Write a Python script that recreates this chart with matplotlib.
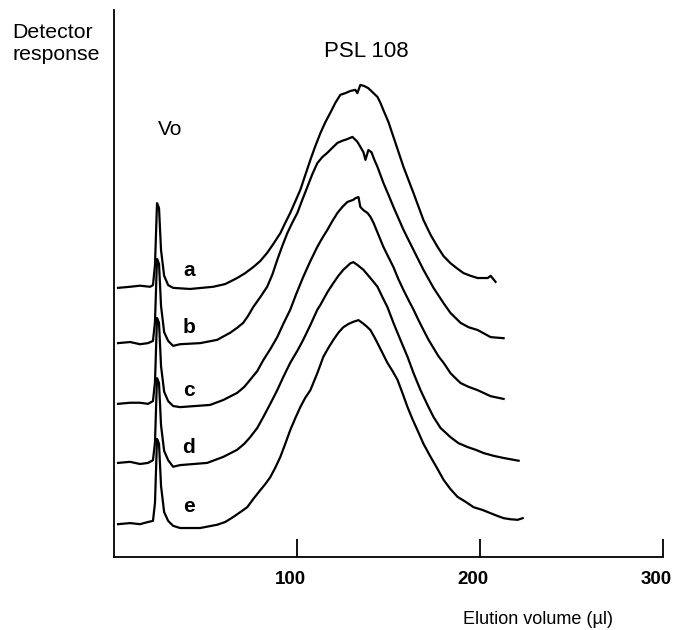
import matplotlib
matplotlib.use("Agg")
import matplotlib.pyplot as plt
import matplotlib.transforms as mtransforms

plt.rcParams['font.family'] = ['Liberation Sans', 'DejaVu Sans']

# ---------------- data: (elution volume µl, detector response, stacked arbitrary units) ----------------
trace_a = [(2.2, 49.2), (8.8, 49.4), (14.2, 49.6), (19.7, 49.4), (21.3, 49.7), (22.4, 53.4), (23.5, 64.7),
           (24.6, 63.8), (25.7, 56.1), (27.4, 51.4), (29.6, 49.7), (32.3, 49.2), (41.6, 49.0), (54.2, 49.4),
           (60.8, 49.9), (67.3, 51.0), (71.7, 51.9), (76.1, 53.0), (79.9, 54.1), (83.7, 55.6), (87.0, 57.2),
           (90.9, 59.2), (93.6, 61.1), (96.3, 62.9), (101.8, 67.1), (107.3, 72.6), (110.0, 75.1),
           (112.8, 77.5), (115.5, 79.5), (118.2, 81.2), (120.9, 83.0), (123.7, 84.5), (126.4, 84.8),
           (129.2, 85.2), (131.9, 85.4), (133.0, 84.8), (134.6, 86.3), (136.8, 86.1), (139.0, 85.7),
           (141.2, 85.0), (144.0, 84.1), (145.6, 83.0), (147.2, 81.7), (150.0, 79.5), (152.7, 76.8),
           (158.2, 71.3), (163.7, 66.5), (169.1, 61.6), (173.0, 58.9), (176.8, 56.7), (180.1, 55.0),
           (183.9, 53.7), (187.7, 52.7), (191.0, 51.9), (194.9, 51.4), (198.7, 51.0), (204.2, 51.0),
           (205.8, 51.4), (208.5, 50.3)]

trace_b = [(2.2, 39.1), (8.8, 39.3), (14.2, 38.9), (18.6, 39.1), (21.3, 39.5), (22.4, 43.0), (23.5, 54.5),
           (24.6, 53.6), (25.7, 45.9), (27.4, 41.1), (29.6, 39.5), (32.3, 38.6), (36.1, 38.9), (47.1, 39.1),
           (56.4, 39.7), (63.5, 41.0), (67.3, 41.9), (70.6, 42.8), (73.3, 44.1), (76.1, 45.7), (79.9, 47.5),
           (83.7, 49.4), (86.5, 51.6), (89.2, 54.3), (92.0, 56.9), (94.7, 59.2), (97.4, 61.1), (100.2, 62.9),
           (102.9, 65.3), (105.6, 67.6), (108.4, 70.0), (111.1, 72.0), (113.8, 73.1), (116.6, 73.9),
           (119.3, 74.8), (122.1, 75.7), (124.8, 76.1), (127.5, 76.4), (130.3, 76.8), (133.0, 75.9),
           (134.6, 75.0), (136.3, 74.0), (137.4, 72.6), (139.0, 74.4), (140.7, 74.0), (142.3, 72.6),
           (144.0, 71.3), (147.2, 68.4), (150.0, 66.2), (152.7, 64.0), (158.2, 59.8), (163.7, 56.1),
           (169.1, 52.5), (174.6, 49.2), (180.1, 46.4), (183.9, 44.6), (189.4, 42.8), (193.8, 42.0),
           (198.7, 41.5), (205.8, 40.2), (212.9, 40.0)]

trace_c = [(2.2, 28.0), (8.8, 28.2), (14.2, 28.2), (18.6, 28.0), (21.3, 28.5), (22.4, 32.0), (23.5, 43.7),
           (24.6, 42.8), (25.7, 34.9), (27.4, 30.2), (29.6, 28.5), (32.3, 27.6), (36.1, 27.4), (52.5, 27.8),
           (59.7, 28.7), (67.3, 30.0), (71.2, 31.1), (74.4, 32.4), (78.3, 34.0), (81.6, 36.0), (85.4, 38.0),
           (89.2, 40.2), (92.5, 42.6), (96.3, 45.2), (99.6, 48.1), (103.4, 51.2), (107.3, 54.1),
           (111.1, 56.7), (113.8, 58.3), (116.6, 59.8), (119.3, 61.4), (122.1, 62.9), (124.8, 64.0),
           (127.5, 64.9), (130.8, 65.3), (131.9, 65.6), (133.6, 65.8), (134.6, 64.0), (136.3, 63.4),
           (138.5, 62.9), (140.1, 62.2), (141.8, 61.1), (144.5, 58.9), (147.2, 56.7), (150.0, 54.8),
           (152.7, 53.0), (155.4, 50.8), (158.2, 48.8), (160.9, 47.0), (163.7, 45.2), (166.4, 43.3),
           (169.1, 41.5), (171.9, 39.7), (174.6, 38.2), (177.3, 36.7), (180.1, 35.5), (183.9, 33.6),
           (186.6, 32.7), (189.4, 31.8), (193.8, 31.1), (198.7, 30.5), (205.8, 29.4), (212.9, 28.9)]

trace_d = [(2.2, 17.2), (8.8, 17.4), (14.2, 17.0), (18.6, 17.2), (21.3, 17.7), (22.4, 21.0), (23.5, 32.7),
           (24.6, 31.8), (25.7, 24.1), (27.4, 19.4), (29.6, 17.7), (32.3, 16.5), (36.1, 16.8), (50.9, 17.2),
           (59.7, 18.3), (67.3, 19.6), (71.2, 20.7), (74.4, 21.9), (78.3, 23.6), (81.6, 25.6), (85.4, 28.0),
           (89.2, 30.5), (92.5, 32.9), (96.3, 35.5), (100.2, 37.7), (103.4, 39.7), (107.3, 42.4),
           (111.1, 45.2), (112.8, 46.1), (116.6, 48.4), (119.9, 50.1), (122.6, 51.4), (125.3, 52.5),
           (129.2, 53.7), (130.8, 53.9), (133.0, 53.4), (136.3, 52.5), (140.1, 51.0), (144.0, 49.4),
           (146.7, 47.5), (149.4, 45.7), (152.7, 42.8), (156.5, 39.7), (160.4, 36.6), (163.7, 33.6),
           (167.5, 30.5), (171.3, 27.8), (174.6, 25.6), (178.4, 23.6), (183.9, 21.9), (188.3, 20.8),
           (193.2, 20.1), (197.6, 19.6), (202.0, 19.0), (207.4, 18.5), (212.9, 18.1), (221.1, 17.6)]

trace_e = [(2.2, 6.0), (8.8, 6.2), (14.2, 6.0), (18.6, 6.4), (21.3, 6.6), (22.4, 9.9), (23.5, 21.6),
           (24.6, 20.7), (25.7, 13.0), (27.4, 8.2), (29.6, 6.6), (32.3, 5.7), (36.1, 5.3), (47.1, 5.3),
           (56.4, 5.9), (60.8, 6.4), (65.1, 7.3), (69.0, 8.2), (72.8, 9.1), (76.1, 10.6), (79.9, 12.2),
           (82.6, 13.3), (85.4, 14.6), (88.1, 16.3), (90.9, 18.3), (93.6, 20.7), (96.3, 23.2), (99.1, 25.4),
           (101.8, 27.4), (104.5, 29.1), (107.3, 30.5), (111.1, 33.6), (114.4, 36.6), (117.1, 38.2),
           (119.9, 39.7), (122.6, 41.0), (125.3, 42.0), (128.1, 42.6), (130.8, 43.0), (133.6, 43.3),
           (135.7, 42.8), (137.9, 42.2), (140.1, 41.5), (142.3, 40.2), (144.0, 39.1), (146.7, 37.3),
           (149.4, 35.5), (152.2, 34.0), (154.9, 32.4), (157.6, 30.0), (160.4, 27.4), (163.1, 25.2),
           (165.8, 23.2), (169.1, 20.7), (173.0, 18.3), (176.8, 16.1), (180.1, 14.1), (183.9, 12.4),
           (187.7, 11.0), (192.1, 10.1), (196.5, 9.1), (201.4, 8.6), (205.8, 8.0), (209.6, 7.5),
           (212.9, 7.1), (216.7, 6.9), (220.6, 6.8), (223.3, 7.1)]

trace_names = ['a', 'b', 'c', 'd', 'e']
traces = [trace_a, trace_b, trace_c, trace_d, trace_e]
label_pos_x = 40.9
label_pos_y = [52.3, 42.0, 30.5, 20.1, 9.3]

x_ticks = [100, 200, 300]
x_tick_labels = ['100', '200', '300']

# ---------------- figure ----------------
fig = plt.figure(figsize=(6.73, 6.30), dpi=100)
ax = fig.add_axes([114 / 673, 1 - 557 / 630, (663 - 114) / 673, (557 - 10) / 630])

for tr in traces:
    xs = [p[0] for p in tr]
    ys = [p[1] for p in tr]
    ax.plot(xs, ys, color='black', lw=1.6, solid_joinstyle='round')

for name, ly in zip(trace_names, label_pos_y):
    ax.text(label_pos_x, ly, name, fontsize=15, fontweight='bold', ha='center', va='center')

ax.text(30.6, 78.1, 'Vo', fontsize=15, ha='center', va='center')
ax.text(138, 92.5, 'PSL 108', fontsize=16, ha='center', va='center')

ax.set_xlim(0, 300)
ax.set_ylim(0, 100)
ax.set_xticks(x_ticks)
ax.set_xticklabels(x_tick_labels, fontsize=13.5, fontweight='bold')
ax.set_yticks([])
ax.tick_params(axis='x', direction='in', length=13, width=1.3, pad=10)
offset = mtransforms.ScaledTranslation(-7 / 100, 0, fig.dpi_scale_trans)
for lab in ax.get_xticklabels():
    lab.set_transform(lab.get_transform() + offset)

for s in ['top', 'right']:
    ax.spines[s].set_visible(False)
for s in ['left', 'bottom']:
    ax.spines[s].set_linewidth(1.3)

fig.text(12 / 673, 1 - 44 / 630, 'Detector\nresponse', fontsize=15.3, ha='left', va='center',
         linespacing=1.2)
fig.text(538 / 673, 1 - 619 / 630, 'Elution volume (\u00b5l)', fontsize=13, ha='center', va='center')

fig.savefig('out.png', dpi=100)
